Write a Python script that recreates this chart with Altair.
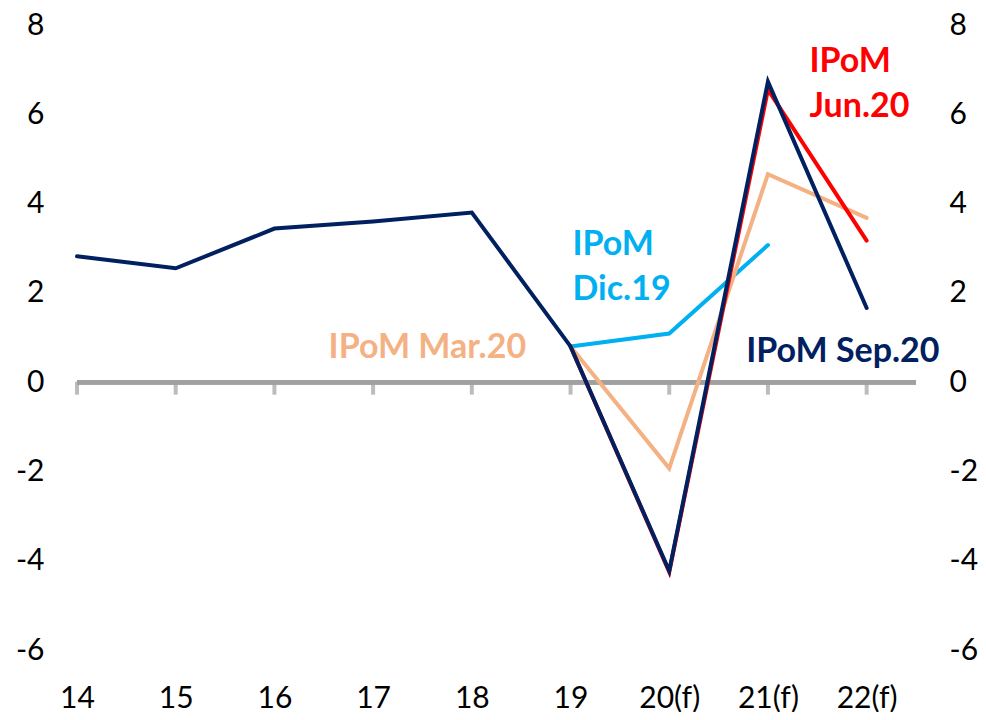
import json
import altair as alt
import pandas as pd

categories = ["14", "15", "16", "17", "18", "19", "20(f)", "21(f)", "22(f)"]
sep20 = [2.82, 2.55, 3.44, 3.60, 3.80, 0.80, -4.23, 6.73, 1.66]
jun20 = [None, None, None, None, None, 0.80, -4.25, 6.55, 3.17]
mar20 = [None, None, None, None, None, 0.80, -1.93, 4.66, 3.68]
dic19 = [None, None, None, None, None, 0.80, 1.09, 3.07, None]

series = [
    ("IPoM Dic.19", dic19, "#00B0F0"),
    ("IPoM Mar.20", mar20, "#F4B183"),
    ("IPoM Jun.20", jun20, "#FF0000"),
    ("IPoM Sep.20", sep20, "#002060"),
]

# label anchors (category index, value of first line)
labels = [
    ("IPoM Dic.19", ["IPoM", "Dic.19"], 5.02, 3.07, "left", "#00B0F0"),
    ("IPoM Mar.20", ["IPoM Mar.20"], 4.55, 0.76, "right", "#F4B183"),
    ("IPoM Jun.20", ["IPoM", "Jun.20"], 7.42, 7.17, "left", "#FF0000"),
    ("IPoM Sep.20", ["IPoM Sep.20"], 6.78, 0.67, "left", "#002060"),
]

FONT = "Lato"
GRAY = "#A0A0A0"

label_expr = json.dumps(categories) + "[datum.value]"
xscale = alt.Scale(domain=[0, 8.5], nice=False, zero=False)
yscale = alt.Scale(domain=[-6, 8], nice=False, zero=False)

xaxis = alt.Axis(values=list(range(len(categories))), labelExpr=label_expr,
                 domain=False, ticks=False, tickSize=0, grid=False, title=None,
                 labelFont=FONT, labelFontSize=30, labelColor="black",
                 labelPadding=33, labelFlush=False, labelOverlap=False, labelAngle=0)


def yaxis(orient, pad):
    return alt.Axis(orient=orient, values=list(range(-6, 9, 2)), domain=False,
                    ticks=False, tickSize=0, grid=False, title=None,
                    labelExpr="'' + datum.value",
                    labelFont=FONT, labelFontSize=30, labelColor="black",
                    labelPadding=pad, labelFlush=False, labelOverlap=False)


def X(field="x", t="quantitative"):
    return alt.X(field, type=t, scale=xscale, axis=xaxis)


layers = []

base_df = pd.DataFrame({"x": list(range(len(categories))), "y": [0] * len(categories)})
zero = alt.Chart(base_df).mark_rule(color=GRAY, strokeWidth=4).encode(
    x=alt.X(datum=0, type="quantitative", scale=xscale, axis=xaxis),
    x2=alt.datum(8.5),
    y=alt.Y(datum=0, type="quantitative", scale=yscale, axis=yaxis("left", 33)),
)
layers.append(zero)

ticks = alt.Chart(base_df).mark_tick(color=GRAY, orient="vertical", size=13,
                                     thickness=4, yOffset=6).encode(
    x=X(),
    y=alt.Y("y:Q", scale=yscale, axis=yaxis("right", 33)),
)
layers.append(ticks)

for name, vals, color in series:
    rows = [{"x": i, "v": v} for i, v in enumerate(vals) if v is not None]
    df = pd.DataFrame(rows)
    ln = alt.Chart(df).mark_line(color=color, strokeWidth=4, strokeCap="round",
                                 strokeJoin="miter").encode(
        x=X(),
        y=alt.Y("v:Q", scale=yscale, axis=None),
    )
    layers.append(ln)

for name, lines, lx, ly, align, color in labels:
    df = pd.DataFrame([{"x": lx, "y": ly, "name": name}])
    txt = alt.Chart(df).mark_text(
        font=FONT, fontSize=34, fontWeight="bold", color=color, align=align,
        baseline="middle", lineHeight=45,
    ).encode(
        x=X(),
        y=alt.Y("y:Q", scale=yscale, axis=None),
        text=alt.value(lines),
    )
    layers.append(txt)

chart = alt.layer(*layers).resolve_axis(y="independent").properties(
    width=839, height=625,
    background="white",
    autosize=alt.AutoSizeParams(type="none"),
    padding={"left": 69, "top": 17, "right": 62, "bottom": 62},
).configure_view(stroke="transparent", strokeWidth=0)

chart.save("out.html", embed_options={"renderer": "svg", "actions": False})
